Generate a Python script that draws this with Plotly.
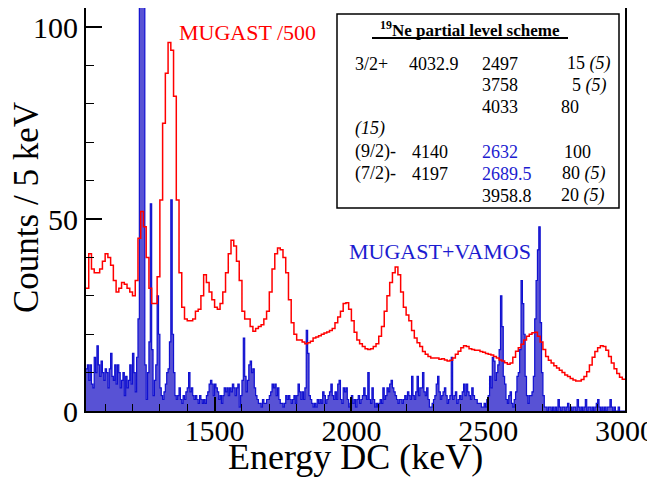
"""19Ne gamma spectrum: MUGAST+VAMOS coincidences vs MUGAST singles (/500)."""

import numpy as np
import plotly.graph_objects as go

# histogram binning (keV)
E_MIN, E_MAX = 1030, 3000
BLUE_BIN = 5
RED_BIN = 10

# MUGAST+VAMOS, counts / 5 keV, from 1030 keV
mugast_vamos = [
    11, 12, 8, 12, 7, 6, 14, 10, 17, 12, 9, 13, 10, 8, 11, 10, 6, 11, 15, 9,
    8, 12, 7, 12, 10, 6, 8, 10, 4, 9, 6, 8, 12, 7, 15, 10, 5, 14, 24, 110,
    150, 140, 108, 12, 3, 10, 18, 54, 16, 4, 8, 12, 30, 20, 6, 4, 3, 5, 7, 10,
    11, 18, 55, 20, 10, 4, 3, 4, 6, 3, 2, 4, 3, 5, 6, 10, 5, 6, 4, 3,
    4, 3, 2, 4, 3, 2, 3, 2, 4, 5, 7, 8, 7, 4, 7, 6, 5, 3, 4, 2,
    4, 6, 5, 6, 4, 6, 5, 7, 6, 4, 6, 7, 1, 4, 8, 19, 9, 5, 8, 12,
    13, 10, 11, 6, 4, 3, 2, 2, 1, 3, 2, 2, 3, 3, 4, 5, 7, 6, 7, 4,
    6, 3, 2, 2, 1, 2, 4, 3, 4, 3, 2, 3, 4, 2, 4, 7, 5, 3, 5, 3,
    6, 21, 15, 4, 3, 2, 1, 2, 1, 3, 2, 3, 2, 5, 4, 2, 3, 4, 5, 7,
    4, 3, 5, 3, 7, 8, 3, 2, 6, 5, 6, 3, 1, 2, 4, 2, 3, 1, 3, 4,
    2, 3, 4, 6, 4, 3, 10, 3, 2, 6, 3, 1, 2, 1, 2, 3, 2, 6, 3, 4,
    6, 5, 7, 8, 6, 5, 4, 3, 2, 3, 3, 2, 3, 4, 3, 5, 4, 3, 9, 4,
    3, 5, 9, 4, 6, 6, 10, 5, 4, 6, 3, 1, 1, 2, 3, 4, 7, 9, 5, 3,
    4, 5, 6, 4, 2, 3, 4, 14, 3, 4, 5, 2, 3, 4, 3, 5, 7, 4, 7, 5,
    4, 3, 6, 4, 3, 3, 2, 2, 2, 1, 1, 2, 1, 3, 4, 9, 6, 14, 13, 8,
    10, 12, 16, 30, 22, 9, 7, 3, 2, 4, 5, 2, 1, 3, 5, 9, 10, 16, 34, 28,
    20, 9, 4, 2, 4, 4, 5, 9, 24, 34, 42, 48, 23, 10, 4, 1, 1, 0, 1, 1,
    0, 1, 0, 1, 0, 3, 1, 0, 1, 1, 0, 1, 2, 0, 1, 0, 1, 1, 0, 3,
    1, 0, 1, 0, 1, 3, 0, 1, 1, 0, 1, 0, 1, 2, 3, 1, 0, 1, 0, 1,
    0, 1, 1, 3, 1, 0, 1, 0, 0, 1, 0, 0, 0, 0,
]

# MUGAST singles scaled by 1/500, 10 keV bins from 1030 keV
mugast_scaled = [
    32, 41, 37, 36, 36, 37, 39, 41, 40, 38, 34, 31, 32, 33.5, 33, 32, 31, 30, 34, 45,
    52, 48, 40, 32, 28, 28, 35, 55, 75, 88, 96, 94, 82, 55, 36, 27, 24, 23.5, 23.5, 24,
    26, 26.5, 30, 35.5, 33.5, 31, 29, 27, 26.5, 28, 31, 36, 41, 44.5, 43, 39, 34, 26, 24, 24,
    22, 20.8, 21.5, 22, 22.5, 24, 26, 31, 37, 41, 42.5, 42, 40, 36, 29, 23, 20, 18.5, 18.5, 18,
    17.5, 17.8, 18.2, 19, 19.3, 19.6, 20, 20.3, 20.6, 21, 21.5, 23, 24.5, 26, 28, 28.2, 26.5, 23.5, 20.5, 18.5,
    17.5, 16.8, 16.2, 16, 16.2, 16.8, 17.5, 19.5, 22, 26, 30, 33.5, 36, 37.5, 35.5, 31, 27, 25, 23.5, 21,
    19, 17.8, 16.8, 15.5, 14.8, 14.2, 13.8, 13.8, 13.8, 13.5, 13.6, 13.3, 13, 13.2, 13.8, 14.8, 15.6, 16.5, 17, 16.8,
    16.2, 16, 15.8, 15.8, 15.5, 15.3, 15, 14.8, 14.6, 14.2, 13.8, 13.3, 13, 12.6, 12.2, 12.5, 14, 15.6, 16.5, 17.4,
    18.5, 19.5, 20, 20.4, 20.5, 19.5, 18, 16, 14.2, 13.2, 12.5, 11.8, 11.2, 10.6, 10, 9.4, 9, 8.5, 8.1, 7.8,
    7.8, 8.2, 9, 10.2, 12, 14, 15.5, 16.5, 17, 16.8, 15.8, 14.2, 12.5, 11, 9.8, 8.8, 8.3,
]

x_tickvals = [1500, 2000, 2500, 3000]
y_tickvals = [0, 50, 100]

# level-scheme table (one entry per row)
table_title = "<b><sup>19</sup>Ne partial level scheme</b>"
spins = ["3/2+", "", "", "<i>(15)</i>", "(9/2)-", "(7/2)-", ""]
levels = ["4032.9", "", "", "", "4140", "4197", ""]
gammas = ["2497", "3758", "4033", "", "2632", "2689.5", "3958.8"]
gamma_seen = [False, False, False, False, True, True, False]
branchings = ["15 <i>(5)</i>", "5 <i>(5)</i>", "80", "", "100", "80 <i>(5)</i>", "20 <i>(5)</i>"]

SERIF = "'Liberation Serif', 'Times New Roman', Times, 'DejaVu Serif', serif"
RED = "#ff0000"
BLUE_LINE = "#1010d0"
BLUE_FILL = "#5852d5"
BLUE_TEXT = "#1c1cd0"

# page is 655x477; the html body adds an 8 px margin, so the figure is 8 px smaller
PAGE_W, PAGE_H, BODY = 655, 477, 8
# plot-area frame in page pixels, used to place the annotations
L, R, T, B = 86, 625, 8, 411


def px(x):
    return (x - L) / (R - L)


def py(y):
    return (B - y) / (B - T)


def _steps(values, start, width):
    edges = start + width * np.arange(len(values) + 1)
    return edges, list(values) + [values[-1]]


fig = go.Figure()

bx, by = _steps(mugast_vamos, E_MIN, BLUE_BIN)
fig.add_trace(
    go.Scatter(
        x=bx, y=by, mode="lines", line_shape="hv",
        line=dict(color=BLUE_LINE, width=1.2),
        fill="tozeroy", fillcolor=BLUE_FILL, showlegend=False,
    )
)
rx, ry = _steps(mugast_scaled, E_MIN, RED_BIN)
fig.add_trace(
    go.Scatter(
        x=rx, y=ry, mode="lines", line_shape="hv",
        line=dict(color=RED, width=1.5), showlegend=False,
    )
)

annotations = [
    dict(text="Energy DC (keV)", x=0.5, y=py(457), xanchor="center", yanchor="middle",
         font=dict(size=36)),
    dict(text="Counts / 5 keV", x=px(26), y=py(208), xanchor="center", yanchor="middle",
         textangle=-90, font=dict(size=35)),
    dict(text="MUGAST /500", x=px(177), y=py(32), xanchor="left", yanchor="middle",
         font=dict(size=22, color=RED)),
    dict(text="MUGAST+VAMOS", x=px(347), y=py(252), xanchor="left", yanchor="middle",
         font=dict(size=22, color=BLUE_TEXT)),
    dict(text=table_title, x=px(470), y=py(29), xanchor="center", yanchor="middle",
         font=dict(size=17)),
]

row_y = [63.5, 85, 106.5, 129, 151.5, 173.5, 195.5]
col4_x = [565, 570, 559, 559, 562, 560, 559]
for i, yy in enumerate(row_y):
    cells = [
        (spins[i], 353, "black"),
        (levels[i], 407 if "." in levels[i] else 410, "black"),
        (gammas[i], 480, BLUE_TEXT if gamma_seen[i] else "black"),
        (branchings[i], col4_x[i], "black"),
    ]
    for text, xx, color in cells:
        if text:
            annotations.append(
                dict(text=text, x=px(xx), y=py(yy), xanchor="left", yanchor="middle",
                     font=dict(size=18, color=color))
            )

for a in annotations:
    a.update(xref="paper", yref="paper", showarrow=False)
    a["font"].setdefault("family", SERIF)
    a["font"].setdefault("color", "black")

fig.update_layout(
    width=PAGE_W - BODY,
    height=PAGE_H - BODY,
    margin=dict(l=L - BODY, r=PAGE_W - R, t=T - BODY, b=PAGE_H - B, autoexpand=False),
    paper_bgcolor="white",
    plot_bgcolor="white",
    font=dict(family=SERIF, color="black"),
    annotations=annotations,
    shapes=[
        dict(type="rect", xref="paper", yref="paper",
             x0=px(337), x1=px(619), y0=py(208), y1=py(14),
             line=dict(color="black", width=1.5), fillcolor="white", layer="above"),
        dict(type="line", xref="paper", yref="paper",
             x0=px(372), x1=px(568), y0=py(38), y1=py(38),
             line=dict(color="black", width=2)),
    ],
)
fig.update_xaxes(
    range=[E_MIN, E_MAX],
    tickvals=x_tickvals,
    automargin=False,
    ticks="inside", ticklen=14, tickwidth=1.5, tickcolor="black",
    ticklabelstandoff=-8,
    minor=dict(dtick=100, ticks="inside", ticklen=7, tickcolor="black", tickwidth=1.2),
    tickfont=dict(size=30, family=SERIF),
    showline=True, linecolor="black", linewidth=2, mirror=True,
    showgrid=False, zeroline=False,
)
fig.update_yaxes(
    range=[0, 105],
    tickvals=y_tickvals,
    automargin=False,
    ticks="inside", ticklen=16, tickwidth=1.5, tickcolor="black",
    minor=dict(dtick=10, ticks="inside", ticklen=8, tickcolor="black", tickwidth=1.2),
    tickfont=dict(size=30, family=SERIF),
    showline=True, linecolor="black", linewidth=2, mirror=True,
    showgrid=False, zeroline=False,
)

fig.write_html("out.html")
